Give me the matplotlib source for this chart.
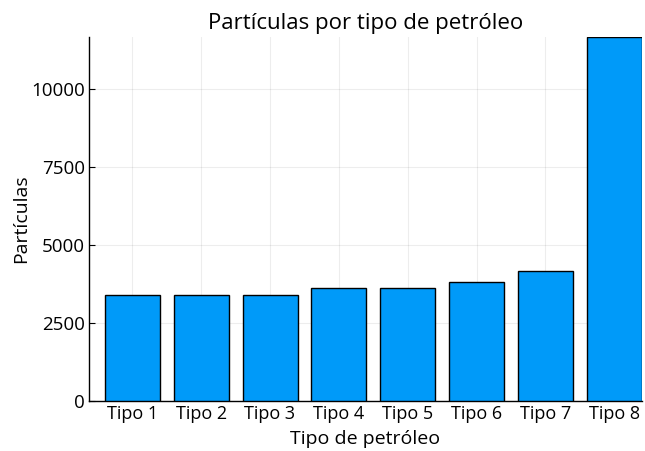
import matplotlib
matplotlib.use("Agg")
import matplotlib.pyplot as plt
import numpy as np

# data
tipos = ["Tipo 1", "Tipo 2", "Tipo 3", "Tipo 4", "Tipo 5", "Tipo 6", "Tipo 7", "Tipo 8"]
particulas = [3400, 3400, 3400, 3600, 3600, 3800, 4150, 11650]
y_ticks = [0, 2500, 5000, 7500, 10000]

plt.rcParams['font.family'] = ['Open Sans', 'DejaVu Sans']

fig = plt.figure(figsize=(6.45, 4.51), dpi=100)
ax = fig.add_axes([0.138, 0.111, 0.857, 0.807])

x = np.arange(len(tipos))
ax.bar(x, particulas, width=0.8, color='#009af9', edgecolor='black', linewidth=1.0, zorder=3)

ax.set_xticks(x)
ax.set_xticklabels(tipos)
ax.set_yticks(y_ticks)
ax.set_xlim(-0.63, len(tipos) - 0.6)
ax.set_ylim(0, max(particulas))

ax.grid(True, color='black', alpha=0.07, linewidth=0.8, zorder=0)
ax.tick_params(direction='in', length=4, width=0.8, pad=3)
ax.tick_params(axis='x', labelsize=13)
ax.tick_params(axis='y', labelsize=13.5)
for side in ['top', 'right']:
    ax.spines[side].set_visible(False)
for side in ['left', 'bottom']:
    ax.spines[side].set_linewidth(1.0)

ax.set_title('Partículas por tipo de petróleo', fontsize=16, pad=6)
ax.set_xlabel('Tipo de petróleo', fontsize=14, labelpad=5)
ax.set_ylabel('Partículas', fontsize=14, labelpad=1)

fig.savefig('out.png', dpi=100)
